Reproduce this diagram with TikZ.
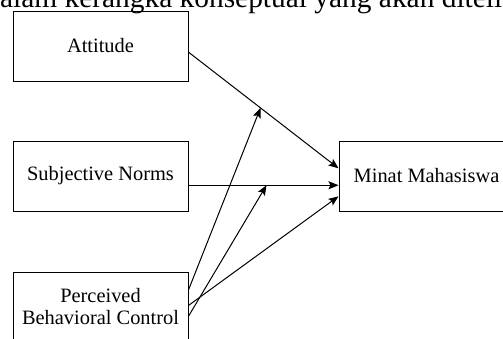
\documentclass[tikz,border=0pt]{standalone}
\usepackage{fontspec}
\setmainfont{Liberation Serif}
\usetikzlibrary{arrows.meta}
\begin{document}
\begin{tikzpicture}[x=0.5pt,y=-0.5pt]
	\tikzset{bx/.style={draw,line width=0.5pt,rectangle,minimum width=87.5pt,minimum height=35pt,inner sep=1pt,align=center,font=\fontsize{10.2}{11}\selectfont}}
	\tikzset{ar/.style={-{Stealth[length=5pt,width=4pt,inset=1pt]},line width=0.5pt}}
	\useasboundingbox(0,0)rectangle(503,338);
	\clip(0,0)rectangle(503,338);
	\path(-15,7)node[anchor=base west,inner sep=0,font=\fontsize{14.7}{17}\selectfont](T){dalam kerangka konseptual yang akan diteliti};
	\path(100.5,46)node[bx](A){Attitude}++(0,130)node[bx](S){Subjective Norms}++(0,131)node[bx](P){Perceived\\Behavioral Control};
	\path(426.5,176)node[bx](M){Minat Mahasiswa};
	\draw[ar](A.-4)--(M.175)coordinate[pos=0.48](a1);
	\draw[ar](S.-6)--(M.186)coordinate[pos=0.52](s1);
	\foreach \x/\y in {
	P.11/a1,
	P.-6/s1,
	P.1/M.193}
	\draw[ar](\x)--(\y);
\end{tikzpicture}
\end{document}
